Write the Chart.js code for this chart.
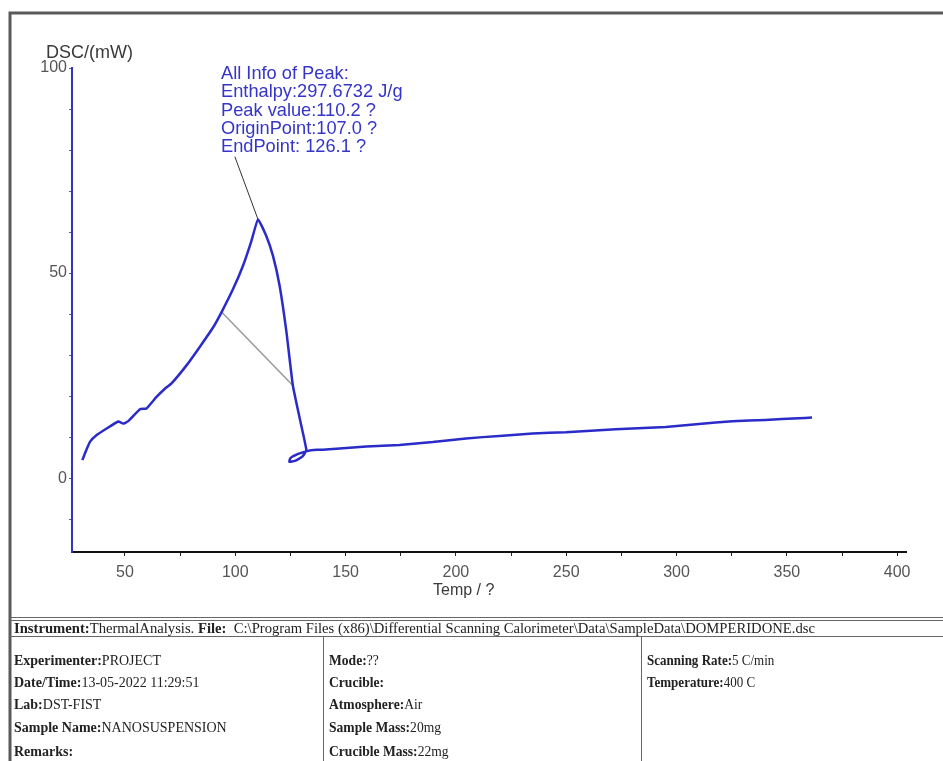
<!DOCTYPE html>
<html>
<head>
<meta charset="utf-8">
<script src="https://cdn.jsdelivr.net/npm/chart.js@4/dist/chart.umd.min.js"></script>
<style>
  html, body { margin: 0; padding: 0; background: #fff; }
  #c { display: block; }
</style>
</head>
<body>
<canvas id="c" width="943" height="761"></canvas>
<script>
// ---- data ----
const tempCurve = [30.7, 31.9, 34.2, 37.2, 41.7, 47.0, 49.2, 51.5, 56.8, 59.8, 64.3, 68.1, 71.1, 77.9, 83.9, 90.0, 93.8, 99.0, 103.5, 107.3, 110.3, 114.1, 117.1, 120.1, 123.2, 126.1, 129.2, 132.2, 130.5, 127.0, 124.5, 125.0, 128.5, 132.5, 137.0, 144.3, 159.4, 174.4, 189.5, 204.6, 219.7, 234.8, 249.9, 264.9, 280.0, 295.1, 310.2, 325.3, 340.3, 355.4, 361.4];
const dscCurve  = [4.4, 6.1, 8.9, 10.5, 12.1, 13.8, 13.3, 13.9, 16.8, 17.0, 19.8, 21.8, 23.1, 27.5, 32.0, 36.8, 40.5, 46.1, 51.8, 57.8, 63.1, 59.0, 54.2, 46.9, 35.6, 22.6, 14.6, 6.9, 5.3, 4.2, 4.0, 4.9, 5.9, 6.6, 6.9, 7.1, 7.7, 8.1, 8.8, 9.7, 10.3, 10.9, 11.2, 11.7, 12.1, 12.5, 13.2, 13.9, 14.2, 14.6, 14.8];
const baselineTemp = [93.8, 126.1];
const baselineDsc  = [40.5, 22.6];
const leaderTemp = [110.3, 99.8];
const leaderDsc  = [63.1, 78.4];
const xTickValues = [50, 75, 100, 125, 150, 175, 200, 225, 250, 275, 300, 325, 350, 375, 400];
const xTickLabels = [50, 100, 150, 200, 250, 300, 350, 400];
const yTickValues = [-10, 0, 10, 20, 30, 40, 50, 60, 70, 80, 90, 100];
const yTickLabels = [0, 50, 100];
const peakInfo = ['All Info of Peak:', 'Enthalpy:297.6732 J/g', 'Peak value:110.2 ?', 'OriginPoint:107.0 ?', 'EndPoint: 126.1 ?'];
const instrumentRow = [['Instrument:', true], ['ThermalAnalysis. ', false], ['File:', true], ['  C:\\Program Files (x86)\\Differential Scanning Calorimeter\\Data\\SampleData\\DOMPERIDONE.dsc', false]];
const col1 = [['Experimenter:', 'PROJECT'], ['Date/Time:', '13-05-2022 11:29:51'], ['Lab:', 'DST-FIST'], ['Sample Name:', 'NANOSUSPENSION'], ['Remarks:', '']];
const col2 = [['Mode:', '??'], ['Crucible:', ''], ['Atmosphere:', 'Air'], ['Sample Mass:', '20mg'], ['Crucible Mass:', '22mg']];
const col3 = [['Scanning Rate:', '5 C/min'], ['Temperature:', '400 C']];

const toPts = (xs, ys) => xs.map((x, i) => ({ x: x, y: ys[i] }));

const SANS = '"Liberation Sans", Arial, sans-serif';
const SERIF = '"Liberation Serif", "Times New Roman", serif';

const decor = {
  id: 'decor',
  beforeDraw(chart) {
    const ctx = chart.ctx;
    ctx.save();
    ctx.fillStyle = '#fff';
    ctx.fillRect(0, 0, chart.width, chart.height);
    ctx.restore();
  },
  afterDraw(chart) {
    const ctx = chart.ctx;
    ctx.save();
    // axis titles
    ctx.fillStyle = '#3a3a3a';
    ctx.textBaseline = 'top';
    ctx.textAlign = 'left';
    ctx.font = '18px ' + SANS;
    ctx.fillText('DSC/(mW)', 46, 44);
    ctx.font = '16px ' + SANS;
    ctx.fillText('Temp / ?', 433, 583);

    // peak annotation
    ctx.fillStyle = '#3535c8';
    ctx.font = '19px ' + SANS;
    ctx.textBaseline = 'middle';
    peakInfo.forEach((t, i) => {
      ctx.save();
      ctx.translate(221, 74 + i * 18.2);
      ctx.scale(0.96, 1);
      ctx.fillText(t, 0, 0);
      ctx.restore();
    });

    // frame
    ctx.strokeStyle = '#5a5a5a';
    ctx.lineWidth = 3;
    ctx.beginPath();
    ctx.moveTo(10, 762); ctx.lineTo(10, 13); ctx.lineTo(945, 13);
    ctx.stroke();
    ctx.lineWidth = 1;
    ctx.strokeStyle = '#666';
    ctx.beginPath();
    ctx.moveTo(10, 617.5); ctx.lineTo(943, 617.5);
    ctx.moveTo(10, 620.5); ctx.lineTo(943, 620.5);
    ctx.moveTo(10, 636.5); ctx.lineTo(943, 636.5);
    ctx.moveTo(323.5, 636); ctx.lineTo(323.5, 761);
    ctx.moveTo(641.5, 636); ctx.lineTo(641.5, 761);
    ctx.stroke();

    // table text
    ctx.fillStyle = '#222';
    ctx.textBaseline = 'alphabetic';
    function runs(list, x, y, target, size, sx) {
      let w = 0;
      list.forEach(([t, b]) => { ctx.font = (b ? 'bold ' : '') + size + 'px ' + SERIF; w += ctx.measureText(t).width; });
      const s = target ? target / w : (sx || 1);
      ctx.save();
      ctx.translate(x, y);
      ctx.scale(s, 1);
      let cx = 0;
      list.forEach(([t, b]) => { ctx.font = (b ? 'bold ' : '') + size + 'px ' + SERIF; ctx.fillText(t, cx, 0); cx += ctx.measureText(t).width; });
      ctx.restore();
    }
    runs(instrumentRow, 14, 633, 801, 14);
    const rowsY = [665, 687, 709, 732, 756];
    col1.forEach(([a, b], i) => runs([[a, true], [b, false]], 14, rowsY[i], 0, 14, 1.0));
    col2.forEach(([a, b], i) => runs([[a, true], [b, false]], 329, rowsY[i], 0, 14, 0.97));
    col3.forEach(([a, b], i) => runs([[a, true], [b, false]], 647, rowsY[i], 0, 14, 0.93));
    ctx.restore();
  }
};

new Chart(document.getElementById('c'), {
  type: 'scatter',
  data: {
    datasets: [
      { data: toPts(tempCurve, dscCurve), showLine: true, borderColor: '#2b2bc9', borderWidth: 2.5, pointRadius: 0, tension: 0.12 },
      { data: toPts(baselineTemp, baselineDsc), showLine: true, borderColor: '#9a9a9a', borderWidth: 1.5, pointRadius: 0 },
      { data: toPts(leaderTemp, leaderDsc), showLine: true, borderColor: '#333', borderWidth: 1, pointRadius: 0 }
    ]
  },
  options: {
    responsive: false,
    animation: false,
    events: [],
    layout: { padding: { left: 0, top: 68, right: 37, bottom: 0 } },
    plugins: { legend: { display: false }, tooltip: { enabled: false } },
    scales: {
      x: {
        type: 'linear', min: 26, max: 404,
        afterBuildTicks: s => { s.ticks = xTickValues.map(v => ({ value: v })); },
        afterFit: s => { s.height = 209; },
        ticks: {
          autoSkip: false, maxRotation: 0, padding: 7,
          color: '#555', font: { family: SANS, size: 16 },
          callback: v => xTickLabels.includes(v) ? String(v) : ''
        },
        grid: { drawOnChartArea: false, drawTicks: true, tickLength: 4, color: '#222' },
        border: { display: true, color: '#111', width: 2 }
      },
      y: {
        type: 'linear', min: -18, max: 100,
        afterBuildTicks: s => { s.ticks = yTickValues.map(v => ({ value: v })); },
        afterFit: s => { s.width = 72; },
        ticks: {
          autoSkip: false, padding: 2,
          color: '#555', font: { family: SANS, size: 16 },
          callback: v => yTickLabels.includes(v) ? String(v) : ''
        },
        grid: { drawOnChartArea: false, drawTicks: true, tickLength: 3, color: '#5555aa' },
        border: { display: true, color: '#3434c4', width: 2 }
      }
    }
  },
  plugins: [decor]
});
</script>
</body>
</html>
